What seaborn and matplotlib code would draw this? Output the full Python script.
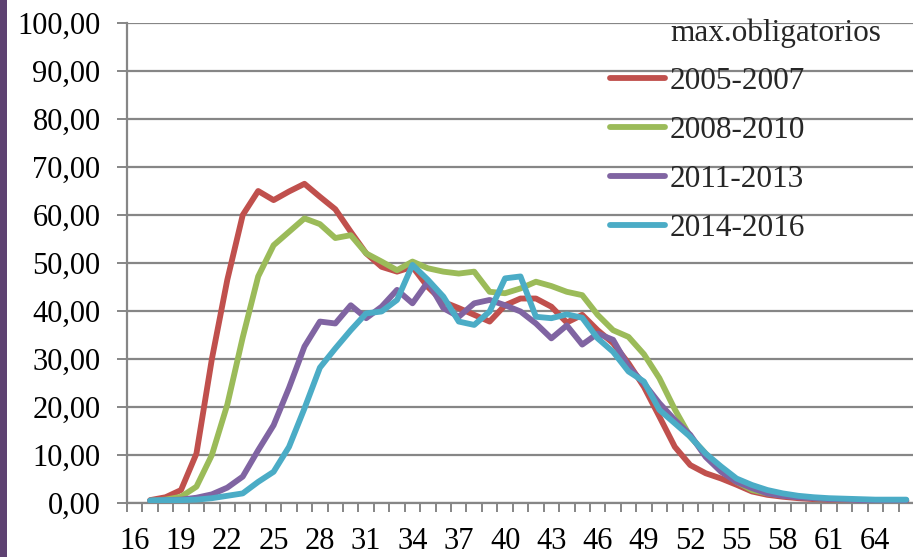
import matplotlib
matplotlib.use("Agg")
import matplotlib.pyplot as plt
from matplotlib.ticker import FixedLocator, FuncFormatter
import seaborn as sns
import pandas as pd

ages = list(range(17, 67))
periods = ["2005-2007", "2008-2010", "2011-2013", "2014-2016"]
v_2005_2007 = [0.6, 1.2, 2.7, 10.3, 30.0, 46.5, 60.0, 65.0, 63.1, 64.9, 66.5, 63.8, 61.2, 56.5, 52.0,
               49.2, 48.2, 49.2, 45.0, 41.9, 40.6, 39.2, 37.8, 41.2, 42.6, 42.6, 40.9, 37.6, 39.2, 36.0,
               33.3, 29.1, 24.2, 18.0, 11.7, 7.9, 6.2, 5.1, 3.8, 2.4, 1.7, 1.3, 1.0, 0.8, 0.7,
               0.6, 0.5, 0.5, 0.5, 0.4]
v_2008_2010 = [0.5, 0.7, 1.3, 3.4, 10.0, 20.5, 34.5, 47.2, 53.7, 56.5, 59.3, 58.1, 55.2, 55.8, 52.0,
               50.3, 48.5, 50.3, 48.9, 48.2, 47.8, 48.2, 44.0, 43.7, 44.7, 46.1, 45.2, 44.0, 43.3, 39.2,
               36.0, 34.6, 31.0, 26.0, 19.5, 13.8, 10.3, 6.9, 4.4, 2.7, 2.0, 1.6, 1.3, 1.0, 0.8,
               0.7, 0.6, 0.5, 0.5, 0.5]
v_2011_2013 = [0.5, 0.6, 0.7, 1.1, 1.8, 3.2, 5.5, 11.0, 16.2, 24.0, 32.6, 37.8, 37.4, 41.2, 38.5,
               40.9, 44.4, 41.6, 46.1, 40.6, 38.8, 41.6, 42.3, 41.2, 39.9, 37.4, 34.3, 37.0, 33.0, 35.3,
               34.0, 28.4, 24.9, 20.8, 17.3, 14.2, 9.6, 6.5, 4.4, 3.1, 2.0, 1.5, 1.2, 1.0, 0.8,
               0.7, 0.6, 0.6, 0.5, 0.5]
v_2014_2016 = [0.5, 0.6, 0.6, 0.7, 1.0, 1.5, 2.0, 4.4, 6.5, 11.7, 19.7, 28.2, 32.2, 36.0, 39.5,
               39.9, 42.3, 49.6, 46.5, 43.0, 37.8, 37.1, 39.9, 46.8, 47.2, 38.8, 38.5, 39.3, 38.6, 34.3,
               31.5, 27.4, 25.3, 19.4, 16.6, 13.8, 10.3, 7.6, 5.1, 3.75, 2.7, 2.0, 1.5, 1.2, 1.0,
               0.9, 0.8, 0.7, 0.7, 0.7]
xtick_labels = list(range(16, 65, 3))
legend_title = "max.obligatorios"

colors = ["#C0504D", "#9BBB59", "#8064A2", "#4BACC6"]
series = [v_2005_2007, v_2008_2010, v_2011_2013, v_2014_2016]
df = pd.DataFrame({
    "edad": ages * 4,
    "valor": sum(series, []),
    "periodo": sum([[p] * len(ages) for p in periods], []),
})

sns.set_theme(style="white")
plt.rcParams["font.family"] = ["Liberation Serif", "DejaVu Serif"]

W, H = 913, 557
fig = plt.figure(figsize=(W / 100, H / 100), dpi=100)
fig.patch.set_facecolor("white")
# left purple strip
fig.patches.append(plt.Rectangle((0, 0), 7 / W, 1, transform=fig.transFigure,
                                 facecolor="#5E4272", edgecolor="none"))

left, right, top, bottom = 127, 914, 23, 503
ax = fig.add_axes([left / W, 1 - bottom / H, (right - left) / W, (bottom - top) / H])
ax.set_facecolor("white")

sns.lineplot(data=df, x="edad", y="valor", hue="periodo", hue_order=periods,
             palette=colors, linewidth=4.2, ax=ax, legend=True,
             solid_capstyle="round", solid_joinstyle="round", zorder=3)

grid_c = "#868686"
ax.set_xlim(15.5, 66.5)
ax.set_ylim(0, 100)
ax.yaxis.set_major_locator(FixedLocator(list(range(0, 101, 10))))
ax.yaxis.set_major_formatter(FuncFormatter(lambda v, p: f"{v:.2f}".replace(".", ",")))
ax.grid(axis="y", color=grid_c, linewidth=1.6, zorder=1)
ax.grid(axis="x", visible=False)
ax.set_axisbelow(True)

ax.xaxis.set_major_locator(FixedLocator(xtick_labels))
ax.xaxis.set_major_formatter(FuncFormatter(lambda v, p: f"{int(round(v))}"))
ax.xaxis.set_minor_locator(FixedLocator([a + 0.5 for a in range(15, 67)]))
ax.tick_params(axis="x", which="major", length=0, pad=17, labelsize=22, labelcolor="black")
ax.tick_params(axis="x", which="minor", length=6.5, width=1.4, color=grid_c, direction="out", bottom=True)
ax.tick_params(axis="y", which="major", length=7, width=1.4, color=grid_c, direction="out",
               pad=12, labelsize=22, labelcolor="black", left=True)

for s in ["top", "right"]:
    ax.spines[s].set_visible(False)
for s in ["left", "bottom"]:
    ax.spines[s].set_color(grid_c)
    ax.spines[s].set_linewidth(1.6)
ax.set_xlabel("")
ax.set_ylabel("")

handles, labels = ax.get_legend_handles_labels()
ax.get_legend().remove()
for h in handles:
    h.set_solid_capstyle("round")
    h.set_linewidth(4.2)
leg = fig.legend(handles, labels, loc="upper left",
                 bbox_to_anchor=(610 / W, 1 - 67 / H), bbox_transform=fig.transFigure,
                 frameon=False, fontsize=22.5, handlelength=1.75, handletextpad=0.15,
                 labelspacing=0.64, borderpad=0, borderaxespad=0)
fig.text(670 / W, 1 - 33 / H, legend_title, ha="left", va="center", fontsize=22.5)

fig.savefig("out.png", dpi=100, facecolor="white")
